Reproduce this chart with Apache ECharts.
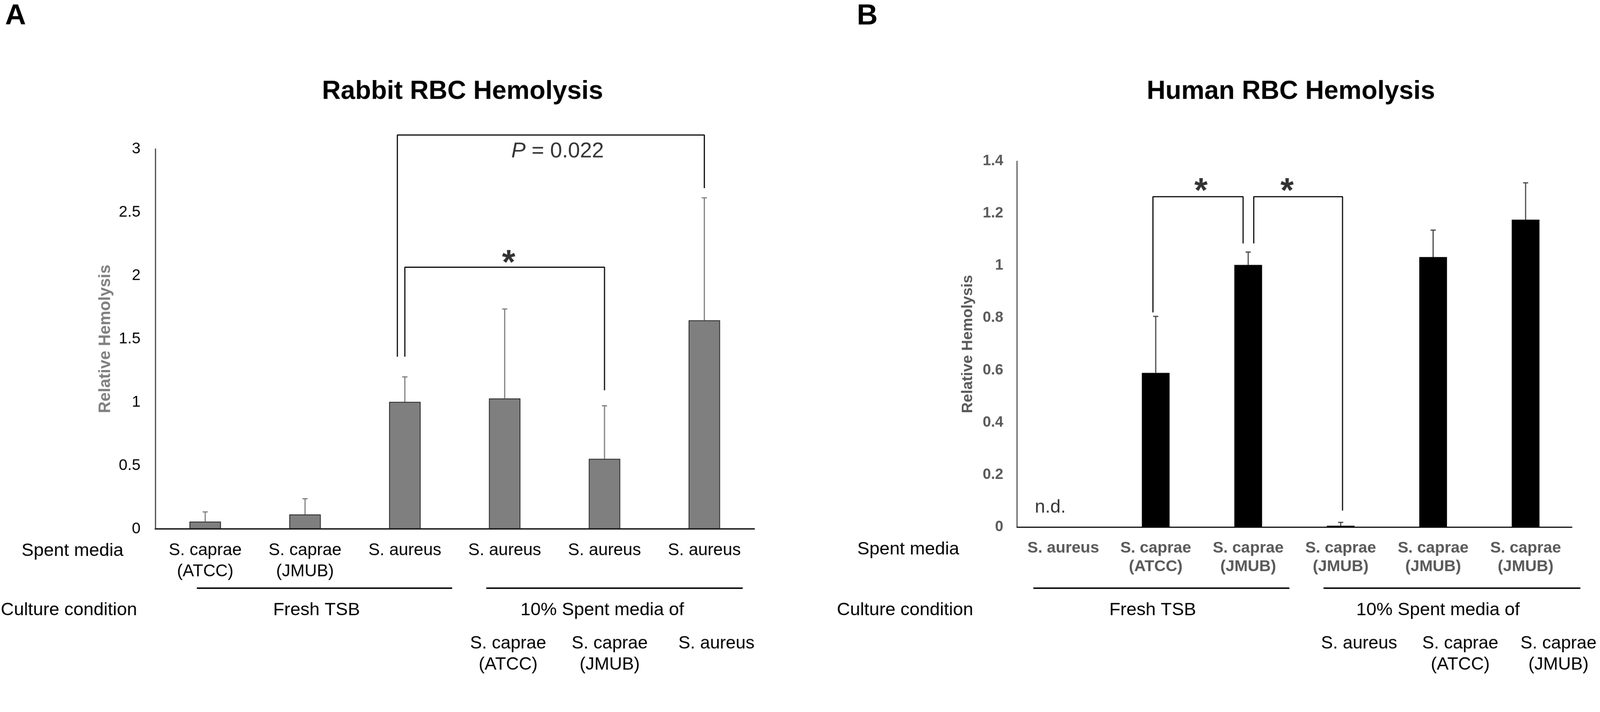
<!DOCTYPE html>
<html>
<head>
<meta charset="utf-8">
<title>RBC Hemolysis</title>
<script src="https://cdn.jsdelivr.net/npm/echarts@6/dist/echarts.min.js"></script>
<style>
  html, body { margin: 0; padding: 0; background: #fff; overflow: hidden; }
  #chart { width: 4317px; height: 1824px; transform-origin: 0 0; }
</style>
</head>
<body>
<div id="chart"></div>
<script>
// ---------- data: panel A (rabbit RBC) ----------
var rabbitCats = ['S. caprae\n(ATCC)', 'S. caprae\n(JMUB)', 'S. aureus', 'S. aureus', 'S. aureus', 'S. aureus'];
var rabbitMean = [0.058, 0.114, 1.003, 1.03, 0.553, 1.647];
var rabbitSD   = [0.076, 0.124, 0.197, 0.706, 0.419, 0.967];
var rabbitTicks = [0, 0.5, 1, 1.5, 2, 2.5, 3];
var rabbitBrackets = [
  [[1.925, 1.36], [1.925, 3.11], [5.0, 3.11], [5.0, 2.69]],
  [[2.0, 1.36], [2.0, 2.066], [4.0, 2.066], [4.0, 1.094]]
];
var rabbitNotes = [
  { name: '{i|P}{n| = 0.022}', value: [3.53, 2.98] },
  { name: '{s|*}', value: [3.04, 2.09] }
];
var rabbitSub = ['S. caprae\n(ATCC)', 'S. caprae\n(JMUB)', 'S. aureus'];

// ---------- data: panel B (human RBC) ----------
var humanCats = ['S. aureus', 'S. caprae\n(ATCC)', 'S. caprae\n(JMUB)', 'S. caprae\n(JMUB)', 'S. caprae\n(JMUB)', 'S. caprae\n(JMUB)'];
var humanMean = [0, 0.59, 1.003, 0.005, 1.033, 1.176];
var humanSD   = [0, 0.216, 0.049, 0.013, 0.103, 0.141];
var humanTicks = [0, 0.2, 0.4, 0.6, 0.8, 1, 1.2, 1.4];
var humanBrackets = [
  [[0.97, 0.821], [0.97, 1.264], [1.945, 1.264], [1.945, 1.085]],
  [[2.06, 1.085], [2.06, 1.264], [3.02, 1.264], [3.02, 0.063]]
];
var humanNotes = [
  { name: '{s|*}', value: [1.49, 1.28] },
  { name: '{s|*}', value: [2.42, 1.28] },
  { name: '{t|n.d.}', value: [-0.14, 0.075] }
];
var humanSub = ['S. aureus', 'S. caprae\n(ATCC)', 'S. caprae\n(JMUB)'];

// shared text
var titles = ['Rabbit RBC Hemolysis', 'Human RBC Hemolysis'];
var panelLetters = ['A', 'B'];
var rowHeads = ['Spent media', 'Culture condition'];
var groupNames = ['Fresh TSB', '10% Spent media of'];
var yName = 'Relative Hemolysis';

// ---------- layout (reference pixels) ----------
var W = 4317, H = 1824;
var FONT = '"Liberation Sans", Arial, sans-serif';
var layout = [
  { grid: { left: 419, top: 402, width: 1616, height: 1026 },
    letter: [42, 44], title: [1248, 248],
    heads: [[58, 1487], [2, 1647]],
    rules: [[531, 1220], [1312, 2004]], ruleY: 1588,
    groups: [854, 1625], subX: [1371, 1645, 1933] },
  { grid: { left: 2744, top: 435, width: 1497, height: 988 },
    letter: [2340, 44], title: [3483, 248],
    heads: [[2313, 1483], [2258, 1647]],
    rules: [[2788, 3479], [3571, 4264]], ruleY: 1588,
    groups: [3110, 3880], subX: [3667, 3940, 4205] }
];

// fit the fixed-size drawing into whatever viewport we get
var el = document.getElementById('chart');
var fit = Math.min(window.innerWidth / W, window.innerHeight / H);
el.style.transform = 'scale(' + fit + ')';

function txt(x, y, s, size, extra) {
  var st = { text: s, fontSize: size, fontFamily: FONT, fill: '#000',
             align: 'center', verticalAlign: 'middle' };
  for (var k in extra) st[k] = extra[k];
  return { type: 'text', x: x, y: y, silent: true, style: st };
}

var graphics = [];
layout.forEach(function (L, p) {
  graphics.push(txt(L.letter[0], L.letter[1], panelLetters[p], 78, { fontWeight: 'bold' }));
  graphics.push(txt(L.title[0], L.title[1], titles[p], 70, { fontWeight: 'bold' }));
  rowHeads.forEach(function (h, i) {
    graphics.push(txt(L.heads[i][0], L.heads[i][1], h, 49, { align: 'left' }));
  });
  L.rules.forEach(function (r) {
    graphics.push({ type: 'line', silent: true,
      shape: { x1: r[0], y1: L.ruleY, x2: r[1], y2: L.ruleY },
      style: { stroke: '#000', lineWidth: 4 } });
  });
  groupNames.forEach(function (g, i) {
    graphics.push(txt(L.groups[i], 1647, g, 49));
  });
  var subs = p === 0 ? rabbitSub : humanSub;
  subs.forEach(function (s, i) {
    graphics.push(txt(L.subX[i], 1709, s, 48, { verticalAlign: 'top', lineHeight: 57 }));
  });
});

function errRender(color) {
  return function (params, api) {
    var i = api.value(0), m = api.value(1), sd = api.value(2);
    if (!sd) return null;
    var base = api.coord([i, m]);
    var top = api.coord([i, m + sd]);
    var st = { stroke: color, lineWidth: 3 };
    return { type: 'group', children: [
      { type: 'line', shape: { x1: base[0], y1: base[1], x2: top[0], y2: top[1] }, style: st },
      { type: 'line', shape: { x1: top[0] - 7, y1: top[1], x2: top[0] + 7, y2: top[1] }, style: st }
    ] };
  };
}

var panels = [
  { cats: rabbitCats, mean: rabbitMean, sd: rabbitSD, ticks: rabbitTicks,
    brackets: rabbitBrackets, notes: rabbitNotes,
    barColor: '#7f7f7f', barBorder: '#1a1a1a', barBorderW: 2, barWidth: '31.5%', errColor: '#7a7a7a',
    tick: { color: '#000', fontSize: 42, fontWeight: 'normal' },
    cat: { color: '#000', fontSize: 46, fontWeight: 'normal', lineHeight: 57, margin: 30 },
    yLine: { color: '#404040', width: 3 }, xLine: { color: '#262626', width: 4 },
    yNameColor: '#7f7f7f', yNameSize: 44, yNameGap: 112, labelMargin: 40 },
  { cats: humanCats, mean: humanMean, sd: humanSD, ticks: humanTicks,
    brackets: humanBrackets, notes: humanNotes,
    barColor: '#000', barBorder: '#000', barBorderW: 0, barWidth: '30%', errColor: '#404040',
    tick: { color: '#595959', fontSize: 40, fontWeight: 'bold' },
    cat: { color: '#595959', fontSize: 43, fontWeight: 'bold', lineHeight: 50, margin: 32 },
    yLine: { color: '#000', width: 2 }, xLine: { color: '#000', width: 3 },
    yNameColor: '#595959', yNameSize: 41, yNameGap: 112, labelMargin: 37 }
];

var option = {
  backgroundColor: '#fff',
  animation: false,
  textStyle: { fontFamily: FONT },
  graphic: graphics,
  grid: [], xAxis: [], yAxis: [], series: []
};

panels.forEach(function (P, p) {
  option.grid.push(layout[p].grid);
  // category axis for the bars
  option.xAxis.push({
    type: 'category', gridIndex: p, data: P.cats,
    axisTick: { show: false },
    axisLine: { onZero: false, lineStyle: P.xLine },
    axisLabel: { interval: 0, margin: P.cat.margin, color: P.cat.color, fontSize: P.cat.fontSize,
                 fontWeight: P.cat.fontWeight, lineHeight: P.cat.lineHeight, fontFamily: FONT }
  });
  // hidden value axis over the same span, used for brackets and notes
  option.xAxis.push({ type: 'value', gridIndex: p, min: -0.5, max: 5.5, show: false });
  var t = P.ticks;
  option.yAxis.push({
    type: 'value', gridIndex: p, min: t[0], max: t[t.length - 1], interval: t[1] - t[0],
    splitLine: { show: false }, axisTick: { show: false },
    axisLine: { show: true, onZero: false, lineStyle: P.yLine },
    axisLabel: { margin: P.labelMargin, color: P.tick.color, fontSize: P.tick.fontSize,
                 fontWeight: P.tick.fontWeight, fontFamily: FONT },
    name: yName, nameLocation: 'middle', nameRotate: 90, nameGap: P.yNameGap,
    nameTextStyle: { color: P.yNameColor, fontSize: P.yNameSize, fontWeight: 'bold', fontFamily: FONT }
  });
  var catAx = p * 2, valAx = p * 2 + 1;
  option.series.push({
    type: 'bar', xAxisIndex: catAx, yAxisIndex: p, data: P.mean, barWidth: P.barWidth,
    itemStyle: { color: P.barColor, borderColor: P.barBorder, borderWidth: P.barBorderW }, silent: true
  });
  option.series.push({
    type: 'custom', xAxisIndex: catAx, yAxisIndex: p, z: 3, silent: true, clip: false,
    data: P.mean.map(function (m, i) { return [i, m, P.sd[i]]; }),
    renderItem: errRender(P.errColor)
  });
  P.brackets.forEach(function (b) {
    option.series.push({
      type: 'line', xAxisIndex: valAx, yAxisIndex: p, data: b, symbol: 'none', z: 4,
      silent: true, clip: false, lineStyle: { color: '#000', width: 3 }
    });
  });
  option.series.push({
    type: 'scatter', xAxisIndex: valAx, yAxisIndex: p, data: P.notes, symbolSize: 1,
    silent: true, clip: false, itemStyle: { color: 'rgba(0,0,0,0)' },
    label: {
      show: true, position: 'inside', formatter: '{b}',
      rich: {
        i: { fontStyle: 'italic', fontSize: 58, color: '#000', fontFamily: FONT },
        n: { fontSize: 58, color: '#000', fontFamily: FONT },
        s: { fontSize: 92, fontWeight: 'bold', color: '#000', fontFamily: FONT },
        t: { fontSize: 50, color: '#000', fontFamily: FONT }
      }
    }
  });
});

var chart = echarts.init(el, null, { width: W, height: H });
chart.setOption(option);
</script>
</body>
</html>
